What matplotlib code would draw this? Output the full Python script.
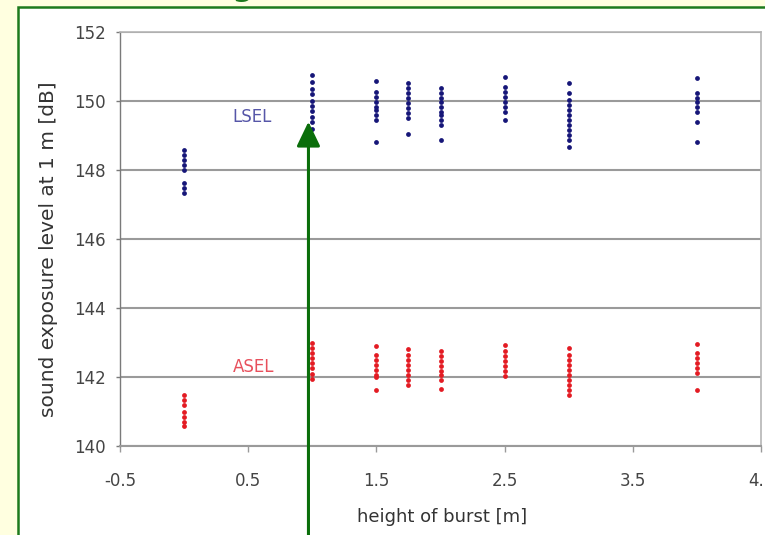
import matplotlib
matplotlib.use("Agg")
import matplotlib.pyplot as plt
from matplotlib.patches import Rectangle

# Burst heights [m]
heights = [0, 1, 1.5, 1.75, 2, 2.5, 3, 4]

# Linear sound exposure level (LSEL) at 1 m, one list per burst height
lsel_h0 = [148.58, 148.43, 148.29, 148.14, 148.00, 147.62, 147.48, 147.33]
lsel_h1 = [150.75, 150.55, 150.35, 150.20, 150.00, 149.85, 149.70, 149.55, 149.40, 149.20]
lsel_h15 = [150.59, 150.27, 150.12, 149.98, 149.83, 149.74, 149.59, 149.45, 148.82]
lsel_h175 = [150.51, 150.37, 150.22, 150.08, 149.93, 149.79, 149.64, 149.50, 149.04]
lsel_h2 = [150.37, 150.22, 150.08, 149.98, 149.83, 149.69, 149.59, 149.45, 149.30, 148.87]
lsel_h25 = [150.69, 150.41, 150.27, 150.12, 149.98, 149.83, 149.69, 149.45]
lsel_h3 = [150.51, 150.22, 150.03, 149.88, 149.74, 149.59, 149.45, 149.30, 149.16, 149.01, 148.87, 148.66]
lsel_h4 = [150.66, 150.22, 150.08, 149.98, 149.83, 149.69, 149.40, 148.82]

# A-weighted sound exposure level (ASEL) at 1 m
asel_h0 = [141.48, 141.34, 141.19, 141.00, 140.85, 140.71, 140.57]
asel_h1 = [143.00, 142.85, 142.70, 142.55, 142.40, 142.25, 142.10, 141.95]
asel_h15 = [142.89, 142.65, 142.50, 142.36, 142.21, 142.07, 142.00, 141.61]
asel_h175 = [142.81, 142.65, 142.50, 142.36, 142.21, 142.07, 141.92, 141.78]
asel_h2 = [142.74, 142.60, 142.45, 142.31, 142.16, 142.07, 141.92, 141.66]
asel_h25 = [142.94, 142.74, 142.60, 142.45, 142.31, 142.16, 142.02]
asel_h3 = [142.84, 142.65, 142.50, 142.36, 142.21, 142.07, 141.92, 141.78, 141.63, 141.48]
asel_h4 = [142.97, 142.70, 142.55, 142.41, 142.26, 142.12, 141.61]

lsel_groups = [lsel_h0, lsel_h1, lsel_h15, lsel_h175, lsel_h2, lsel_h25, lsel_h3, lsel_h4]
asel_groups = [asel_h0, asel_h1, asel_h15, asel_h175, asel_h2, asel_h25, asel_h3, asel_h4]

x_ticks = [-0.5, 0.5, 1.5, 2.5, 3.5, 4.5]
x_tick_labels = ["-0.5", "0.5", "1.5", "2.5", "3.5", "4.5"]
y_ticks = [140, 142, 144, 146, 148, 150, 152]

# Highlight arrow pointing at the 1 m burst height
arrow_x = 0.97
arrow_tip = 149.4
arrow_base = 137.0

W, H = 765, 535
fig = plt.figure(figsize=(W / 100, H / 100), dpi=100, facecolor="#FFFFE0")
plt.rcParams["font.family"] = ["DejaVu Sans"]

# Framed white panel behind the chart
fig.patches.append(Rectangle((18 / W, -0.05), 1.2, 1.05 - 7 / H,
                             transform=fig.transFigure, facecolor="white",
                             edgecolor="#1d7a1d", lw=1.8, zorder=-10))

# Slide title, sitting above the top edge of the panel
fig.text(-27 / W, 1 + 3.5 / H, "Influence of Height of Burst on SEL (1 lb C4)",
         ha="left", va="baseline", fontsize=21, fontweight="bold",
         color="#1d7a1d")

ax = fig.add_axes([120 / W, 1 - 446 / H, 641 / W, 414 / H])
ax.set_facecolor("white")

for h, vals in zip(heights, lsel_groups):
    ax.scatter([h] * len(vals), vals, s=12, marker="o", color="#161678",
               linewidths=0, zorder=3)
for h, vals in zip(heights, asel_groups):
    ax.scatter([h] * len(vals), vals, s=12, marker="o", color="#e31b23",
               linewidths=0, zorder=3)

ax.set_xlim(-0.5, 4.5)
ax.set_ylim(140, 152)
ax.set_xticks(x_ticks)
ax.set_xticklabels(x_tick_labels)
ax.set_yticks(y_ticks)

ax.yaxis.grid(True, color="#9a9a9a", lw=1.5)
ax.set_axisbelow(True)

for side in ["top", "right"]:
    ax.spines[side].set_color("#b5b5b5")
    ax.spines[side].set_linewidth(1.2)
ax.spines["left"].set_color("#7a7a7a")
ax.spines["left"].set_linewidth(1.0)
ax.spines["bottom"].set_color("#9a9a9a")
ax.spines["bottom"].set_linewidth(1.5)

ax.tick_params(axis="y", length=3, width=1, color="#7a7a7a", pad=7,
               labelsize=12, labelcolor="#444444")
ax.tick_params(axis="x", length=4, width=1, color="#9a9a9a", pad=15,
               labelsize=12, labelcolor="#444444")

ax.set_xlabel("height of burst [m]", fontsize=13, color="#333333", va="center")
ax.xaxis.set_label_coords(0.502, -0.172)
ax.set_ylabel("sound exposure level at 1 m [dB]", fontsize=14.5,
              color="#333333", va="center")
ax.yaxis.set_label_coords(-0.112, 0.476)

ax.text(0.53, 149.53, "LSEL", color="#5656a8", fontsize=12,
        ha="center", va="center")
ax.text(0.54, 142.3, "ASEL", color="#e8505c", fontsize=12,
        ha="center", va="center")

ax.annotate("", xy=(arrow_x, arrow_tip), xytext=(arrow_x, arrow_base),
            xycoords="data", textcoords="data", annotation_clip=False,
            arrowprops=dict(arrowstyle="-|>,head_length=0.75,head_width=0.36",
                            mutation_scale=20, color="#0a6e0a", lw=2.2,
                            shrinkA=0, shrinkB=0),
            zorder=10)

fig.savefig("out.png", dpi=100, facecolor=fig.get_facecolor())
